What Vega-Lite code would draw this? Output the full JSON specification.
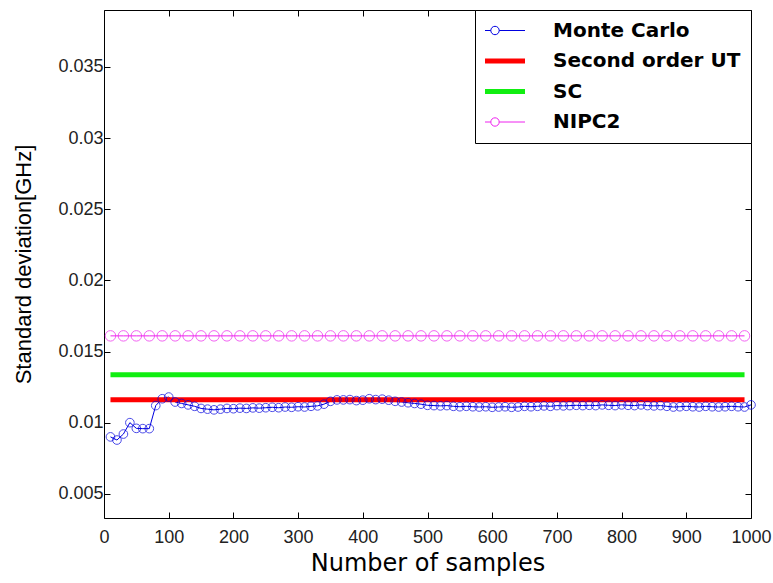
{
  "$schema": "https://vega.github.io/schema/vega-lite/v6.json",
  "width": 647,
  "height": 508,
  "autosize": {"type": "none"},
  "padding": {"left": 104, "top": 10, "right": 22, "bottom": 65},
  "background": "white",
  "config": {
    "view": {"stroke": "black", "strokeWidth": 1},
    "axis": {
      "domain": false,
      "grid": false,
      "tickColor": "black",
      "tickSize": -6,
      "tickWidth": 1,
      "labelFont": "Liberation Sans",
      "labelFontSize": 18,
      "labelColor": "#222222",
      "titleColor": "black",
      "titleFontWeight": "normal"
    }
  },
  "datasets": {
    "all": [
      {"series": "Monte Carlo", "n": 10, "sd": 0.0090},
      {"series": "Monte Carlo", "n": 20, "sd": 0.00878},
      {"series": "Monte Carlo", "n": 30, "sd": 0.0092},
      {"series": "Monte Carlo", "n": 40, "sd": 0.0100},
      {"series": "Monte Carlo", "n": 50, "sd": 0.0096},
      {"series": "Monte Carlo", "n": 60, "sd": 0.00958},
      {"series": "Monte Carlo", "n": 70, "sd": 0.00958},
      {"series": "Monte Carlo", "n": 80, "sd": 0.0112},
      {"series": "Monte Carlo", "n": 90, "sd": 0.01168},
      {"series": "Monte Carlo", "n": 100, "sd": 0.0118},
      {"series": "Monte Carlo", "n": 110, "sd": 0.01145},
      {"series": "Monte Carlo", "n": 120, "sd": 0.01135},
      {"series": "Monte Carlo", "n": 130, "sd": 0.01125},
      {"series": "Monte Carlo", "n": 140, "sd": 0.01115},
      {"series": "Monte Carlo", "n": 150, "sd": 0.0110},
      {"series": "Monte Carlo", "n": 160, "sd": 0.01095},
      {"series": "Monte Carlo", "n": 170, "sd": 0.0109},
      {"series": "Monte Carlo", "n": 180, "sd": 0.01095},
      {"series": "Monte Carlo", "n": 190, "sd": 0.0110},
      {"series": "Monte Carlo", "n": 200, "sd": 0.01098},
      {"series": "Monte Carlo", "n": 210, "sd": 0.01102},
      {"series": "Monte Carlo", "n": 220, "sd": 0.0110},
      {"series": "Monte Carlo", "n": 230, "sd": 0.01104},
      {"series": "Monte Carlo", "n": 240, "sd": 0.01102},
      {"series": "Monte Carlo", "n": 250, "sd": 0.01105},
      {"series": "Monte Carlo", "n": 260, "sd": 0.01108},
      {"series": "Monte Carlo", "n": 270, "sd": 0.01105},
      {"series": "Monte Carlo", "n": 280, "sd": 0.0111},
      {"series": "Monte Carlo", "n": 290, "sd": 0.01108},
      {"series": "Monte Carlo", "n": 300, "sd": 0.01112},
      {"series": "Monte Carlo", "n": 310, "sd": 0.0111},
      {"series": "Monte Carlo", "n": 320, "sd": 0.01115},
      {"series": "Monte Carlo", "n": 330, "sd": 0.01118},
      {"series": "Monte Carlo", "n": 340, "sd": 0.0113},
      {"series": "Monte Carlo", "n": 350, "sd": 0.0115},
      {"series": "Monte Carlo", "n": 360, "sd": 0.0116},
      {"series": "Monte Carlo", "n": 370, "sd": 0.0116},
      {"series": "Monte Carlo", "n": 380, "sd": 0.01162},
      {"series": "Monte Carlo", "n": 390, "sd": 0.01155},
      {"series": "Monte Carlo", "n": 400, "sd": 0.01158},
      {"series": "Monte Carlo", "n": 410, "sd": 0.01168},
      {"series": "Monte Carlo", "n": 420, "sd": 0.01162},
      {"series": "Monte Carlo", "n": 430, "sd": 0.01165},
      {"series": "Monte Carlo", "n": 440, "sd": 0.01158},
      {"series": "Monte Carlo", "n": 450, "sd": 0.0115},
      {"series": "Monte Carlo", "n": 460, "sd": 0.01145},
      {"series": "Monte Carlo", "n": 470, "sd": 0.0114},
      {"series": "Monte Carlo", "n": 480, "sd": 0.01135},
      {"series": "Monte Carlo", "n": 490, "sd": 0.0113},
      {"series": "Monte Carlo", "n": 500, "sd": 0.01122},
      {"series": "Monte Carlo", "n": 510, "sd": 0.0112},
      {"series": "Monte Carlo", "n": 520, "sd": 0.01118},
      {"series": "Monte Carlo", "n": 530, "sd": 0.0112},
      {"series": "Monte Carlo", "n": 540, "sd": 0.01115},
      {"series": "Monte Carlo", "n": 550, "sd": 0.01112},
      {"series": "Monte Carlo", "n": 560, "sd": 0.01115},
      {"series": "Monte Carlo", "n": 570, "sd": 0.01112},
      {"series": "Monte Carlo", "n": 580, "sd": 0.0111},
      {"series": "Monte Carlo", "n": 590, "sd": 0.01112},
      {"series": "Monte Carlo", "n": 600, "sd": 0.01108},
      {"series": "Monte Carlo", "n": 610, "sd": 0.0111},
      {"series": "Monte Carlo", "n": 620, "sd": 0.01112},
      {"series": "Monte Carlo", "n": 630, "sd": 0.01108},
      {"series": "Monte Carlo", "n": 640, "sd": 0.0111},
      {"series": "Monte Carlo", "n": 650, "sd": 0.01115},
      {"series": "Monte Carlo", "n": 660, "sd": 0.01112},
      {"series": "Monte Carlo", "n": 670, "sd": 0.01115},
      {"series": "Monte Carlo", "n": 680, "sd": 0.01118},
      {"series": "Monte Carlo", "n": 690, "sd": 0.01115},
      {"series": "Monte Carlo", "n": 700, "sd": 0.0112},
      {"series": "Monte Carlo", "n": 710, "sd": 0.01118},
      {"series": "Monte Carlo", "n": 720, "sd": 0.0112},
      {"series": "Monte Carlo", "n": 730, "sd": 0.01122},
      {"series": "Monte Carlo", "n": 740, "sd": 0.0112},
      {"series": "Monte Carlo", "n": 750, "sd": 0.01122},
      {"series": "Monte Carlo", "n": 760, "sd": 0.0112},
      {"series": "Monte Carlo", "n": 770, "sd": 0.01125},
      {"series": "Monte Carlo", "n": 780, "sd": 0.01122},
      {"series": "Monte Carlo", "n": 790, "sd": 0.0112},
      {"series": "Monte Carlo", "n": 800, "sd": 0.01125},
      {"series": "Monte Carlo", "n": 810, "sd": 0.01122},
      {"series": "Monte Carlo", "n": 820, "sd": 0.0112},
      {"series": "Monte Carlo", "n": 830, "sd": 0.01125},
      {"series": "Monte Carlo", "n": 840, "sd": 0.0112},
      {"series": "Monte Carlo", "n": 850, "sd": 0.01118},
      {"series": "Monte Carlo", "n": 860, "sd": 0.0112},
      {"series": "Monte Carlo", "n": 870, "sd": 0.01115},
      {"series": "Monte Carlo", "n": 880, "sd": 0.0111},
      {"series": "Monte Carlo", "n": 890, "sd": 0.01112},
      {"series": "Monte Carlo", "n": 900, "sd": 0.01115},
      {"series": "Monte Carlo", "n": 910, "sd": 0.01112},
      {"series": "Monte Carlo", "n": 920, "sd": 0.0111},
      {"series": "Monte Carlo", "n": 930, "sd": 0.01115},
      {"series": "Monte Carlo", "n": 940, "sd": 0.01112},
      {"series": "Monte Carlo", "n": 950, "sd": 0.0111},
      {"series": "Monte Carlo", "n": 960, "sd": 0.01112},
      {"series": "Monte Carlo", "n": 970, "sd": 0.01115},
      {"series": "Monte Carlo", "n": 980, "sd": 0.01112},
      {"series": "Monte Carlo", "n": 990, "sd": 0.0111},
      {"series": "Monte Carlo", "n": 1000, "sd": 0.01125},
      {"series": "Second order UT", "n": 10, "sd": 0.01161},
      {"series": "Second order UT", "n": 990, "sd": 0.01161},
      {"series": "SC", "n": 10, "sd": 0.01336},
      {"series": "SC", "n": 990, "sd": 0.01336},
      {"series": "NIPC2", "n": 10, "sd": 0.0161},
      {"series": "NIPC2", "n": 30, "sd": 0.0161},
      {"series": "NIPC2", "n": 50, "sd": 0.0161},
      {"series": "NIPC2", "n": 70, "sd": 0.0161},
      {"series": "NIPC2", "n": 90, "sd": 0.0161},
      {"series": "NIPC2", "n": 110, "sd": 0.0161},
      {"series": "NIPC2", "n": 130, "sd": 0.0161},
      {"series": "NIPC2", "n": 150, "sd": 0.0161},
      {"series": "NIPC2", "n": 170, "sd": 0.0161},
      {"series": "NIPC2", "n": 190, "sd": 0.0161},
      {"series": "NIPC2", "n": 210, "sd": 0.0161},
      {"series": "NIPC2", "n": 230, "sd": 0.0161},
      {"series": "NIPC2", "n": 250, "sd": 0.0161},
      {"series": "NIPC2", "n": 270, "sd": 0.0161},
      {"series": "NIPC2", "n": 290, "sd": 0.0161},
      {"series": "NIPC2", "n": 310, "sd": 0.0161},
      {"series": "NIPC2", "n": 330, "sd": 0.0161},
      {"series": "NIPC2", "n": 350, "sd": 0.0161},
      {"series": "NIPC2", "n": 370, "sd": 0.0161},
      {"series": "NIPC2", "n": 390, "sd": 0.0161},
      {"series": "NIPC2", "n": 410, "sd": 0.0161},
      {"series": "NIPC2", "n": 430, "sd": 0.0161},
      {"series": "NIPC2", "n": 450, "sd": 0.0161},
      {"series": "NIPC2", "n": 470, "sd": 0.0161},
      {"series": "NIPC2", "n": 490, "sd": 0.0161},
      {"series": "NIPC2", "n": 510, "sd": 0.0161},
      {"series": "NIPC2", "n": 530, "sd": 0.0161},
      {"series": "NIPC2", "n": 550, "sd": 0.0161},
      {"series": "NIPC2", "n": 570, "sd": 0.0161},
      {"series": "NIPC2", "n": 590, "sd": 0.0161},
      {"series": "NIPC2", "n": 610, "sd": 0.0161},
      {"series": "NIPC2", "n": 630, "sd": 0.0161},
      {"series": "NIPC2", "n": 650, "sd": 0.0161},
      {"series": "NIPC2", "n": 670, "sd": 0.0161},
      {"series": "NIPC2", "n": 690, "sd": 0.0161},
      {"series": "NIPC2", "n": 710, "sd": 0.0161},
      {"series": "NIPC2", "n": 730, "sd": 0.0161},
      {"series": "NIPC2", "n": 750, "sd": 0.0161},
      {"series": "NIPC2", "n": 770, "sd": 0.0161},
      {"series": "NIPC2", "n": 790, "sd": 0.0161},
      {"series": "NIPC2", "n": 810, "sd": 0.0161},
      {"series": "NIPC2", "n": 830, "sd": 0.0161},
      {"series": "NIPC2", "n": 850, "sd": 0.0161},
      {"series": "NIPC2", "n": 870, "sd": 0.0161},
      {"series": "NIPC2", "n": 890, "sd": 0.0161},
      {"series": "NIPC2", "n": 910, "sd": 0.0161},
      {"series": "NIPC2", "n": 930, "sd": 0.0161},
      {"series": "NIPC2", "n": 950, "sd": 0.0161},
      {"series": "NIPC2", "n": 970, "sd": 0.0161},
      {"series": "NIPC2", "n": 990, "sd": 0.0161}
    ]
  },
  "data": {"name": "all"},
  "resolve": {"axis": {"x": "independent", "y": "independent"}},
  "layer": [
    {
      "transform": [{"filter": "datum.series === 'Monte Carlo'"}],
      "mark": {"type": "line", "strokeWidth": 1},
      "encoding": {
        "x": {
          "field": "n", "type": "quantitative",
          "scale": {"domain": [0, 1000], "nice": false, "zero": false},
          "axis": {"orient": "bottom", "values": [0,100,200,300,400,500,600,700,800,900,1000], "format": "d", "title": "Number of samples", "titleFont": "DejaVu Sans", "titleFontSize": 24, "titlePadding": 5, "labelPadding": 16, "labelFlush": false}
        },
        "y": {
          "field": "sd", "type": "quantitative",
          "scale": {"domain": [0.0033, 0.039], "nice": false, "zero": false},
          "axis": {"orient": "left", "values": [0.005,0.01,0.015,0.02,0.025,0.03,0.035], "format": "~g", "title": "Standard deviation[GHz]", "titleFont": "Liberation Sans", "titleFontSize": 22, "titlePadding": 22, "labelPadding": 7}
        },
        "color": {
          "field": "series", "type": "nominal",
          "scale": {"domain": ["Monte Carlo", "Second order UT", "SC", "NIPC2"], "range": ["#0000e0", "#ff0000", "#11ee11", "#ee22ee"]},
          "legend": {
            "title": null,
            "orient": "top-right",
            "offset": 0,
            "padding": 10,
            "strokeColor": "black",
            "fillColor": "white",
            "labelFont": "DejaVu Sans",
            "labelFontSize": 20,
            "labelFontWeight": "bold",
            "labelColor": "black",
            "labelOffset": 48,
            "labelLimit": 400,
            "symbolSize": 3600,
            "clipHeight": 21,
            "rowPadding": 9.5,
            "encode": {
              "symbols": {
                "update": {
                  "shape": {"signal": "(datum.value === 'Monte Carlo' || datum.value === 'NIPC2') ? 'M-1,0H-0.14M0.14,0H1M-0.14,0A0.14,0.14 0 1,1 0.14,0A0.14,0.14 0 1,1 -0.14,0' : 'M-1,0H1'"},
                  "strokeWidth": {"signal": "(datum.value === 'Monte Carlo' || datum.value === 'NIPC2') ? 1 : 5"},
                  "fill": {"value": "transparent"}
                }
              }
            }
          }
        }
      }
    },
    {
      "transform": [{"filter": "datum.series === 'Second order UT'"}],
      "mark": {"type": "line", "strokeWidth": 5},
      "encoding": {
        "x": {"field": "n", "type": "quantitative", "axis": null},
        "y": {"field": "sd", "type": "quantitative", "axis": null},
        "color": {"field": "series", "type": "nominal", "legend": null}
      }
    },
    {
      "transform": [{"filter": "datum.series === 'SC'"}],
      "mark": {"type": "line", "strokeWidth": 5},
      "encoding": {
        "x": {"field": "n", "type": "quantitative", "axis": null},
        "y": {"field": "sd", "type": "quantitative", "axis": null},
        "color": {"field": "series", "type": "nominal", "legend": null}
      }
    },
    {
      "transform": [{"filter": "datum.series === 'NIPC2'"}],
      "mark": {"type": "line", "strokeWidth": 1},
      "encoding": {
        "x": {"field": "n", "type": "quantitative", "axis": null},
        "y": {"field": "sd", "type": "quantitative", "axis": null},
        "color": {"field": "series", "type": "nominal", "legend": null}
      }
    },
    {
      "transform": [{"filter": "datum.series === 'Monte Carlo'"}],
      "mark": {"type": "point", "shape": "circle", "filled": false, "size": 75, "strokeWidth": 1},
      "encoding": {
        "x": {"field": "n", "type": "quantitative", "axis": null},
        "y": {"field": "sd", "type": "quantitative", "axis": null},
        "color": {"field": "series", "type": "nominal", "legend": null}
      }
    },
    {
      "transform": [{"filter": "datum.series === 'NIPC2'"}],
      "mark": {"type": "point", "shape": "circle", "filled": false, "size": 110, "strokeWidth": 1},
      "encoding": {
        "x": {"field": "n", "type": "quantitative", "axis": {"orient": "top", "values": [0,100,200,300,400,500,600,700,800,900,1000], "labels": false, "title": null}},
        "y": {"field": "sd", "type": "quantitative", "axis": {"orient": "right", "values": [0.005,0.01,0.015,0.02,0.025,0.03,0.035], "labels": false, "title": null}},
        "color": {"field": "series", "type": "nominal", "legend": null}
      }
    }
  ]
}
